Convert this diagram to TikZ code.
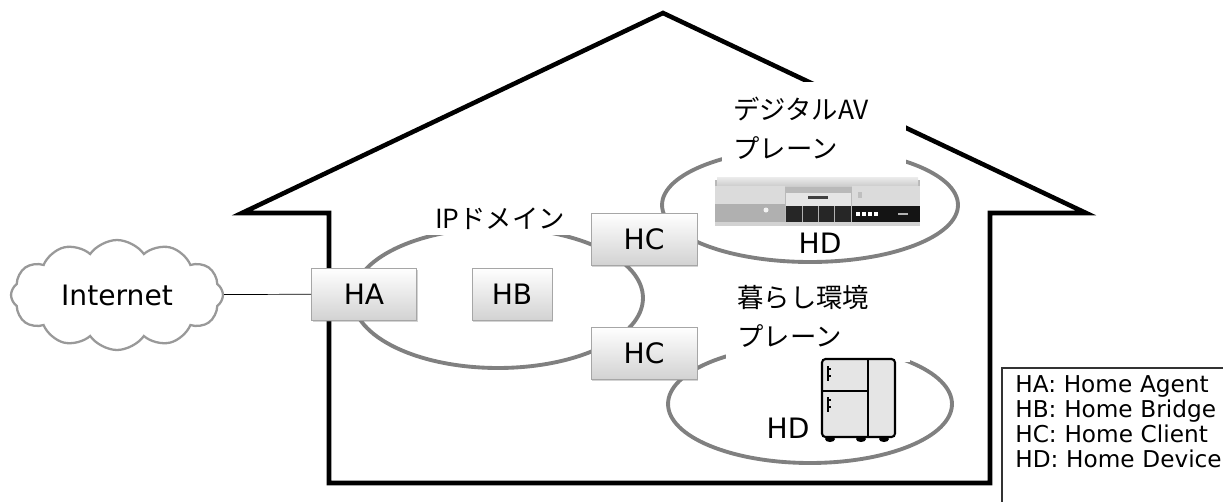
\documentclass[tikz,border=0pt]{standalone}
\usepackage{fontspec}
\setmainfont{DejaVu Sans}
\newfontfamily\jpfont{Noto Sans CJK JP}
\usetikzlibrary{shapes.symbols,shadows,positioning}

\tikzset{
  hbox/.style={draw=gray!70, top color=white, bottom color=gray!35, minimum width=2.1cm, minimum height=1.04cm,
    font=\fontsize{16}{19}\selectfont, drop shadow={opacity=0.35, shadow xshift=0.7pt, shadow yshift=-0.9pt}},
  plane/.style={draw=gray, line width=2.2pt},
  planelabel/.style={fill=white, anchor=north west, align=left, text width=3.24cm, inner xsep=0.22cm, inner ysep=0.3cm,
    font=\jpfont\fontsize{15}{22}\selectfont},
  house/.style={line width=2.6pt, line join=miter},
  hd/.style={font=\fontsize{16}{19}\selectfont}
}

\begin{document}
\begin{tikzpicture}[x=0.02cm,y=-0.02cm]
\useasboundingbox (0,0) rectangle (1223,501);

\draw[house] (329,483) -- (329,213) -- (242,213) -- (663,13) -- (1086,213) -- (990,213) -- (990,483) -- cycle;

\draw[plane] (498,298) ellipse [x radius=2.9cm, y radius=1.4cm];
\draw[plane] (810,205) ellipse [x radius=2.96cm, y radius=1.14cm];
\draw[plane] (810,404) ellipse [x radius=2.84cm, y radius=1.18cm];

\node[planelabel] (avlabel) at (722,82) {デジタルAV\\プレーン};
\node[planelabel] (lifelabel) at (726,270) {暮らし環境\\プレーン};
\node[fill=white, inner xsep=0.24cm, inner ysep=0.1cm, font=\jpfont\fontsize{15}{22}\selectfont] (iplabel) at (500,219) {IPドメイン};

\fill[gray!55] (715,180) rectangle (920,225);
\shade[top color=gray!15, bottom color=gray!40] (717,177) rectangle (918,186);
\fill[gray!28] (715,186) rectangle (785,204);
\fill[gray!62] (715,204) rectangle (785,222);
\fill[gray!10] (766,210) circle [radius=0.05cm];
\fill[gray!20] (786,193) rectangle (851,206);
\fill[black!75] (808,196) rectangle (828,199);
\fill[black!85] (786,206) rectangle (851,222);
\draw[gray!60, line width=0.3pt] (802,206) -- (802,222) (818,206) -- (818,222) (834,206) -- (834,222);
\fill[gray!28] (852,186) rectangle (920,206);
\fill[gray!50] (858,192) rectangle (862,198);
\fill[black!92] (852,206) rectangle (920,222);
\foreach \dx in {856,862,868,874}
  \fill[white] (\dx,212) rectangle (\dx+4,216);
\fill[gray!60] (898,213) rectangle (908,215);
\fill[gray!35] (715,222) rectangle (920,226);

\draw[line width=1.2pt, fill=gray!20, rounded corners=2pt] (822,359) rectangle (895,437);
\draw[line width=1.2pt] (868,359) -- (868,437);
\draw[line width=1.2pt] (822,391) -- (868,391);
\draw[line width=1.1pt] (828,366) -- (828,381) (828,369) -- (831,369) (828,376) -- (831,376);
\draw[line width=1.1pt] (828,397) -- (828,412) (828,400) -- (831,400) (828,407) -- (831,407);
\fill (830,439) ellipse [x radius=0.1cm, y radius=0.06cm];
\fill (861,439) ellipse [x radius=0.1cm, y radius=0.06cm];
\fill (884,439) ellipse [x radius=0.1cm, y radius=0.06cm];

\node[hd] (avhd) at (820,243) {HD};
\node[hd] (lifehd) at (788,428) {HD};

\node[cloud, cloud puffs=12, cloud puff arc=110, cloud ignores aspect, inner sep=0pt, draw=gray!80, line width=1.3pt,
  minimum width=4.24cm, minimum height=2.2cm, font=\fontsize{16}{19}\selectfont] (internet) at (117,295) {Internet};

\node[hbox] (ha) at (364,294) {HA};
\node[hbox, minimum width=1.6cm] (hb) at (512,294) {HB};
\node[hbox, minimum width=2.12cm] (hc1) at (644,239) {HC};
\node[hbox, minimum width=2.12cm] (hc2) at (644,353) {HC};

\draw (internet) -- (ha);

\node[anchor=north west, align=left, inner xsep=0.26cm, inner ysep=0.14cm, text width=4.4cm,
  font=\fontsize{13.2}{14.2}\selectfont] (legend) at (1002,368)
  {HA: Home Agent\\HB: Home Bridge\\HC: Home Client\\HD: Home Device};
\draw[black!80, line width=0.8pt] (legend.north east) -- (legend.north west) -- (legend.north west |- 0,505);
\end{tikzpicture}
\end{document}
